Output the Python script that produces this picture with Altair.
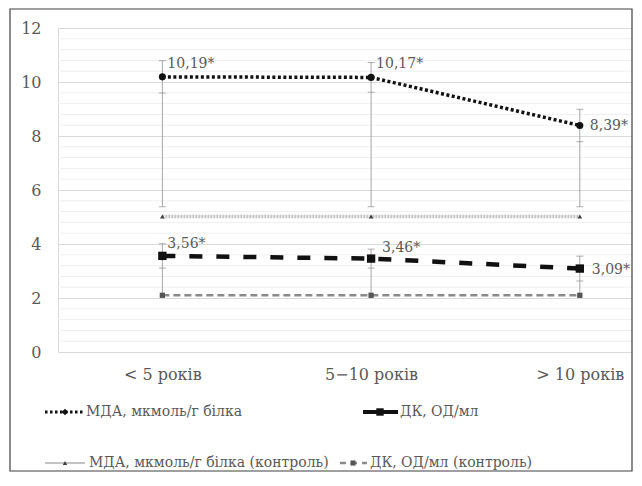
import altair as alt
import pandas as pd

categories = ["< 5 років", "5−10 років", "> 10 років"]
mda = [10.19, 10.17, 8.39]
mda_err = [0.6, 0.55, 0.6]
dk = [3.56, 3.46, 3.09]
dk_err = [0.45, 0.35, 0.46]
mda_ctrl = [5.02, 5.02, 5.02]
mda_ctrl_err = [0.36, 0.36, 0.36]
dk_ctrl = [2.1, 2.1, 2.1]
mda_labels = ["10,19*", "10,17*", "8,39*"]
dk_labels = ["3,56*", "3,46*", "3,09*"]
y_major = [0, 2, 4, 6, 8, 10, 12]
y_minor = [0.4, 0.8, 1.2, 1.6, 2.4, 2.8, 3.2, 3.6, 4.4, 4.8, 5.2, 5.6,
           6.4, 6.8, 7.2, 7.6, 8.4, 8.8, 9.2, 9.6, 10.4, 10.8, 11.2, 11.6]

SERIF = "DejaVu Serif"
TXT = "#595959"
W, H = 574, 324

idx = list(range(len(categories)))
df = pd.DataFrame({
    "idx": idx, "cat": categories,
    "mda": mda, "mda_hi": [m + e for m, e in zip(mda, mda_err)],
    "mda_lo": [m - e for m, e in zip(mda, mda_err)],
    "dk": dk, "dk_hi": [m + e for m, e in zip(dk, dk_err)],
    "dk_lo": [m - e for m, e in zip(dk, dk_err)],
    "mc": mda_ctrl, "mc_hi": [m + e for m, e in zip(mda_ctrl, mda_ctrl_err)],
    "dc": dk_ctrl,
    "mda_lab": mda_labels, "dk_lab": dk_labels,
})

label_expr = "[" + ",".join("'" + c + "'" for c in categories) + "][datum.value]"
xscale = alt.Scale(domain=[-0.5, 2.25], nice=False, zero=False)
yscale = alt.Scale(domain=[0, 12], nice=False)
xaxis = alt.Axis(values=idx, labelExpr=label_expr, grid=False, ticks=False,
                 domain=True, domainColor="#d9d9d9", labelFont=SERIF,
                 labelFontSize=16, labelColor=TXT, labelPadding=14, title=None)
yaxis = alt.Axis(values=y_major, grid=True, gridColor="#d9d9d9", ticks=False,
                 domain=True, domainColor="#d9d9d9", labelFont=SERIF,
                 labelFontSize=16, labelColor=TXT, labelPadding=17, title=None)

def X(f="idx"):
    return alt.X(f + ":Q", scale=xscale, axis=xaxis)

def Y(f):
    return alt.Y(f + ":Q", scale=yscale, axis=yaxis)

base = alt.Chart(df)

minor = alt.Chart(pd.DataFrame({"v": y_minor})).mark_rule(
    color="#efefef", strokeWidth=1).encode(
    y=Y("v"), x=alt.value(0), x2=alt.value(W))

# error bars and connectors
conn_m = base.mark_rule(color="#a6a6a6", strokeWidth=1).encode(
    x=X(), y=Y("mc_hi"), y2="mda_hi")
conn_d = base.mark_rule(color="#a6a6a6", strokeWidth=1).encode(
    x=X(), y=Y("dc"), y2="dk_hi")
caps = []
for f in ["mda_hi", "mda_lo", "dk_hi", "dk_lo", "mc_hi"]:
    caps.append(base.mark_tick(orient="horizontal", size=7, thickness=1,
                               color="#8c8c8c").encode(x=X(), y=Y(f)))

# series
l_mc = base.mark_line(color="#c4c4c4", strokeWidth=3.5, strokeDash=[2, 1]).encode(x=X(), y=Y("mc"))
p_mc = base.mark_point(shape="triangle-up", filled=True, color="#404040", size=22, opacity=1).encode(x=X(), y=Y("mc"))
l_dc = base.mark_line(color="#8a8a8a", strokeWidth=2.5, strokeDash=[7, 4]).encode(x=X(), y=Y("dc"))
p_dc = base.mark_point(shape="square", filled=True, color="#555555", size=28, opacity=1).encode(x=X(), y=Y("dc"))
l_mda = base.mark_line(color="#111111", strokeWidth=3.5, strokeDash=[3, 2.5]).encode(x=X(), y=Y("mda"))
p_mda = base.mark_point(shape="circle", filled=True, color="#111111", size=50, opacity=1).encode(x=X(), y=Y("mda"))
l_dk = base.mark_line(color="#111111", strokeWidth=4.5, strokeDash=[13, 14]).encode(x=X(), y=Y("dk"))
p_dk = base.mark_point(shape="square", filled=True, color="#111111", size=70, opacity=1).encode(x=X(), y=Y("dk"))

lab_font = dict(font=SERIF, fontSize=14, color=TXT, align="left")
t_mda12 = alt.Chart(df[df.idx < 2]).mark_text(dx=5, dy=-13, **lab_font).encode(x=X(), y=Y("mda"), text="mda_lab")
t_mda3 = alt.Chart(df[df.idx == 2]).mark_text(dx=10, dy=1, **lab_font).encode(x=X(), y=Y("mda"), text="mda_lab")
t_dk1 = alt.Chart(df[df.idx == 0]).mark_text(dx=5, dy=-12, **lab_font).encode(x=X(), y=Y("dk"), text="dk_lab")
t_dk2 = alt.Chart(df[df.idx == 1]).mark_text(dx=11, dy=-11, **lab_font).encode(x=X(), y=Y("dk"), text="dk_lab")
t_dk3 = alt.Chart(df[df.idx == 2]).mark_text(dx=12, dy=1, **lab_font).encode(x=X(), y=Y("dk"), text="dk_lab")

# legend (manual)
one = alt.Chart(pd.DataFrame({"a": [0]}))
leg_names = ["МДА, мкмоль/г білка", "ДК, ОД/мл",
             "МДА, мкмоль/г білка (контроль)", "ДК, ОД/мл (контроль)"]
leg = []
def leg_item(name, x0, x1, xm, xt, yy, lstyle, pstyle):
    out = [one.mark_rule(clip=False, **lstyle).encode(
        x=alt.value(x0), x2=alt.value(x1), y=alt.value(yy)),
        one.mark_point(clip=False, filled=True, opacity=1, **pstyle).encode(
        x=alt.value(xm), y=alt.value(yy)),
        one.mark_text(clip=False, font=SERIF, fontSize=14, color=TXT, align="left",
                      baseline="middle").encode(
        x=alt.value(xt), y=alt.value(yy), text=alt.value(name))]
    return out

leg += leg_item(leg_names[0], -13, 27, 7, 28, 384,
                dict(color="#111111", strokeWidth=3, strokeDash=[2.5, 2.5]),
                dict(shape="diamond", color="#111111", size=45))
leg += leg_item(leg_names[1], 305, 340, 322, 342, 384,
                dict(color="#111111", strokeWidth=4),
                dict(shape="square", color="#111111", size=55))
leg += leg_item(leg_names[2], -13, 27, 7, 31, 435,
                dict(color="#c4c4c4", strokeWidth=2),
                dict(shape="triangle-up", color="#404040", size=20))
leg += leg_item(leg_names[3], 282, 309, 295, 312, 435,
                dict(color="#8a8a8a", strokeWidth=2.5, strokeDash=[6, 5]),
                dict(shape="square", color="#555555", size=26))

border = one.mark_rect(fill="transparent", stroke="#404040", strokeWidth=1.2, clip=False).encode(
    x=alt.value(-48), x2=alt.value(W), y=alt.value(-19), y2=alt.value(443))

chart = alt.layer(
    minor, conn_m, conn_d, *caps, l_mc, p_mc, l_dc, p_dc, l_mda, p_mda, l_dk, p_dk,
    t_mda12, t_mda3, t_dk1, t_dk2, t_dk3, *leg, border
).properties(
    width=W, height=H,
    autosize=alt.AutoSizeParams(type="none"),
    padding={"left": 50, "top": 20, "right": 2, "bottom": 126},
    background="white",
).configure_view(strokeWidth=0)

chart.save("out.html", embed_options={"renderer": "svg", "actions": False})
